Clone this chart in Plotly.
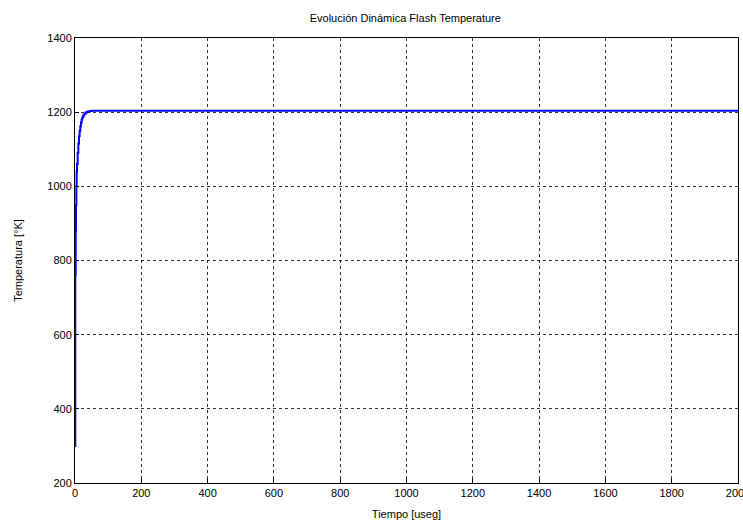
import plotly.graph_objects as go

# Data
tiempo = [0, 1, 2, 3, 4, 5, 6, 8, 10, 12, 14, 16, 18, 20, 22, 25, 28, 32, 36, 40, 45, 50, 60, 80, 2000]
temperatura = [300, 760, 880, 950, 1000, 1040, 1060, 1090, 1115, 1135, 1150, 1162, 1172, 1180, 1186,
               1192, 1196, 1199, 1201, 1202, 1203, 1203.5, 1204, 1204, 1204]

x_ticks = [0, 200, 400, 600, 800, 1000, 1200, 1400, 1600, 1800, 2000]
y_ticks = [200, 400, 600, 800, 1000, 1200, 1400]

fig = go.Figure()
fig.add_trace(go.Scatter(
    x=tiempo, y=temperatura, mode="lines",
    line=dict(color="#0000FF", width=2, shape="hv"),
    showlegend=False,
))

font = dict(family="Liberation Sans, Arial, sans-serif", size=11, color="black")

axis_common = dict(
    showline=True, linecolor="black", linewidth=1, mirror=True,
    showgrid=True, gridcolor="rgba(0,0,0,0.8)", griddash="3px,3px", gridwidth=1,
    zeroline=False, ticks="inside", ticklen=4, tickcolor="black",
    tickfont=font, ticklabeloverflow="allow", automargin=False,
)

fig.update_layout(
    width=743, height=524,
    margin=dict(l=75, r=5, t=38, b=41),
    paper_bgcolor="white", plot_bgcolor="white",
    font=font,
    title=dict(text="Evolución Dinámica Flash Temperature", x=0.5455, xanchor="center",
               y=0.965, yanchor="middle", font=dict(size=11, color="black",
               family="Liberation Sans, Arial, sans-serif")),
    xaxis=dict(range=[0, 2000], tickvals=x_ticks, ticktext=[str(v) for v in x_ticks],
               title=dict(text="Tiempo [useg]", standoff=12, font=font), **axis_common),
    yaxis=dict(range=[200, 1400], tickvals=y_ticks, ticktext=[str(v) for v in y_ticks],
               title=dict(text="Temperatura [°K]", standoff=22, font=font), **axis_common),
)

fig.write_html("out.html")
